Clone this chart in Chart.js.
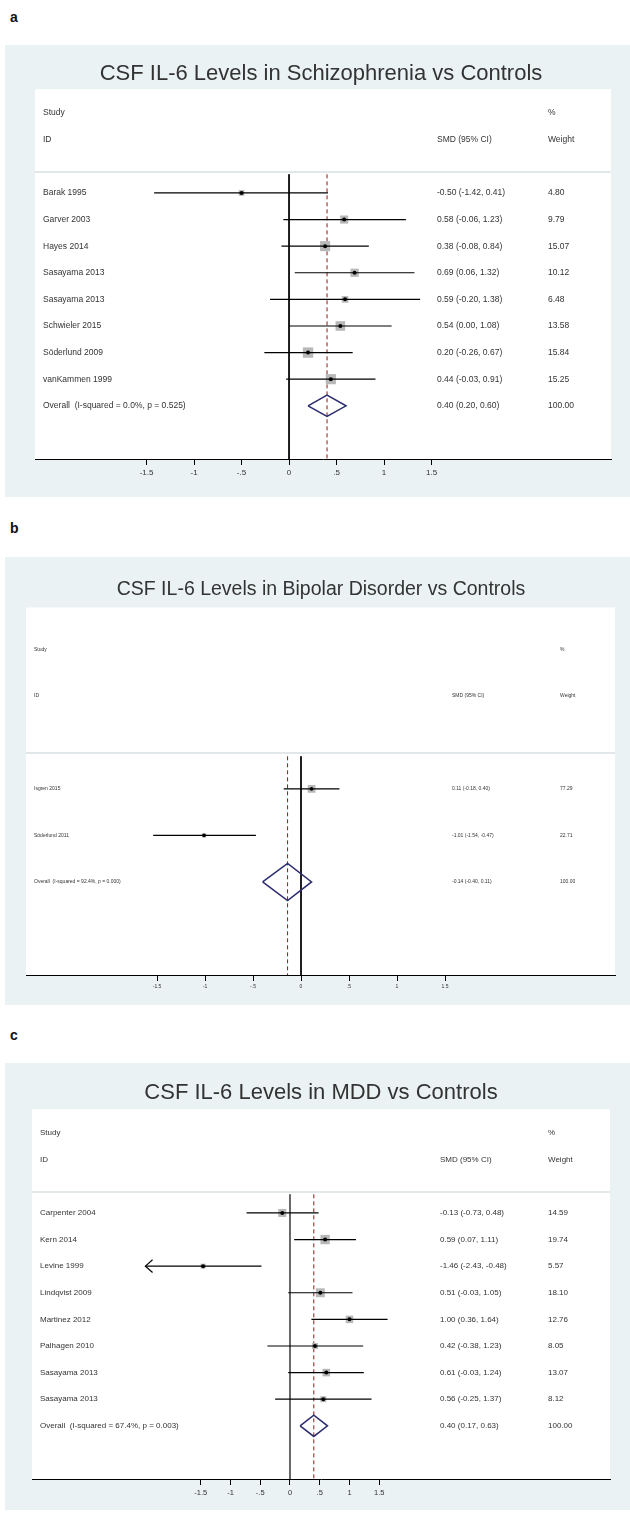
<!DOCTYPE html>
<html>
<head>
<meta charset="utf-8">
<script src="https://cdn.jsdelivr.net/npm/chart.js@4.4.1/dist/chart.umd.min.js"></script>
<style>
  body { margin:0; width:630px; height:1513px; background:#fff; position:relative; overflow:hidden;
         font-family:"Liberation Sans", Arial, sans-serif; }
  .lbl { position:absolute; left:10px; font-weight:bold; font-size:14px; line-height:16px; color:#111; }
  .ttl { position:absolute; left:0; width:642px; text-align:center; color:#333; line-height:26px; white-space:nowrap; }
  canvas { position:absolute; left:0; }
</style>
</head>
<body>
<div class="lbl" style="top:9px">a</div>
<canvas id="panelA" width="630" height="452" style="top:45px"></canvas>
<div class="ttl" style="top:60px;font-size:22px">CSF IL-6 Levels in Schizophrenia vs Controls</div>

<div class="lbl" style="top:520px">b</div>
<canvas id="panelB" width="630" height="448" style="top:557px"></canvas>
<div class="ttl" style="top:575px;font-size:19.5px">CSF IL-6 Levels in Bipolar Disorder vs Controls</div>

<div class="lbl" style="top:1027px">c</div>
<canvas id="panelC" width="630" height="447" style="top:1063px"></canvas>
<div class="ttl" style="top:1079px;font-size:22px">CSF IL-6 Levels in MDD vs Controls</div>

<script>
// x axis ticks shared by the three forest plots
const axisTicks = [-1.5, -1, -0.5, 0, 0.5, 1, 1.5];
const axisTickLabels = ["-1.5", "-1", "-.5", "0", ".5", "1", "1.5"];

// a - schizophrenia
const szStudies = ["Barak 1995", "Garver 2003", "Hayes 2014", "Sasayama 2013", "Sasayama 2013",
                   "Schwieler 2015", "Söderlund 2009", "vanKammen 1999"];
const szSmd    = [-0.50, 0.58, 0.38, 0.69, 0.59, 0.54, 0.20, 0.44];
const szLow    = [-1.42, -0.06, -0.08, 0.06, -0.20, 0.00, -0.26, -0.03];
const szHigh   = [0.41, 1.23, 0.84, 1.32, 1.38, 1.08, 0.67, 0.91];
const szWeight = [4.80, 9.79, 15.07, 10.12, 6.48, 13.58, 15.84, 15.25];
const szOverall = [0.40, 0.20, 0.60];
const szOverallLabel = "Overall  (I-squared = 0.0%, p = 0.525)";

// b - bipolar disorder
const bpStudies = ["Isgren 2015", "Söderlund 2011"];
const bpSmd    = [0.11, -1.01];
const bpLow    = [-0.18, -1.54];
const bpHigh   = [0.40, -0.47];
const bpWeight = [77.29, 22.71];
const bpOverall = [-0.14, -0.40, 0.11];
const bpOverallLabel = "Overall  (I-squared = 92.4%, p = 0.000)";

// c - MDD
const mddStudies = ["Carpenter 2004", "Kern 2014", "Levine 1999", "Lindqvist 2009", "Martinez 2012",
                    "Palhagen 2010", "Sasayama 2013", "Sasayama 2013"];
const mddSmd    = [-0.13, 0.59, -1.46, 0.51, 1.00, 0.42, 0.61, 0.56];
const mddLow    = [-0.73, 0.07, -2.43, -0.03, 0.36, -0.38, -0.03, -0.25];
const mddHigh   = [0.48, 1.11, -0.48, 1.05, 1.64, 1.23, 1.24, 1.37];
const mddWeight = [14.59, 19.74, 5.57, 18.10, 12.76, 8.05, 13.07, 8.12];
const mddOverall = [0.40, 0.17, 0.63];
const mddOverallLabel = "Overall  (I-squared = 67.4%, p = 0.003)";
const mddArrowRows = [2];

const FONT = '"Liberation Sans", Arial, sans-serif';

function fmtCi(e, l, h) {
    return e.toFixed(2) + " (" + l.toFixed(2) + ", " + h.toFixed(2) + ")";
}

function forestPlugin(p) {
    return {
        id: "forest",
        beforeDraw(chart) {
            const {ctx, chartArea: a, scales: {y}} = chart;
            ctx.save();
            // stata s2color background + white plot region
            ctx.fillStyle = "#eaf2f3";
            ctx.fillRect(5, 0, chart.width - 5, chart.height);
            const top = y.getPixelForValue(-2.9);
            ctx.fillStyle = "#fff";
            ctx.fillRect(a.left, top, a.right - a.left, a.bottom - top);
            ctx.fillStyle = "#e2e8ea";
            ctx.fillRect(a.left, a.top - 2, a.right - a.left, 2);
            ctx.restore();
        },
        afterDraw(chart) {
            const {ctx, scales: {y}} = chart;
            const t = p.textX;
            ctx.save();
            ctx.font = p.fontSize + "px " + FONT;
            ctx.fillStyle = "#333";
            ctx.textBaseline = "middle";
            const put = (s, x, row) => ctx.fillText(s, x, y.getPixelForValue(row));
            put("Study", t.name, -2);
            put("%", t.weight, -2);
            put("ID", t.name, -1);
            put("SMD (95% CI)", t.ci, -1);
            put("Weight", t.weight, -1);
            p.studies.forEach((s, i) => {
                put(s, t.name, i + 1);
                put(fmtCi(p.smd[i], p.low[i], p.high[i]), t.ci, i + 1);
                put(p.weight[i].toFixed(2), t.weight, i + 1);
            });
            const ov = p.studies.length + 1;
            put(p.overallLabel, t.name, ov);
            put(fmtCi(p.overall[0], p.overall[1], p.overall[2]), t.ci, ov);
            put((100).toFixed(2), t.weight, ov);
            ctx.restore();
        }
    };
}

function drawForest(id, p) {
    const n = p.studies.length;
    const ovRow = n + 1;
    const yMax = n + 3;
    const [oE, oL, oH] = p.overall;
    const line = (data, color, width, extra) => Object.assign({
        data, showLine: true, borderColor: color, borderWidth: width,
        pointRadius: 0, pointHoverRadius: 0, fill: false
    }, extra || {});

    const datasets = [];
    // study point estimates (drawn on top)
    datasets.push({
        data: p.smd.map((v, i) => ({x: v, y: i + 1})),
        pointStyle: "circle", pointRadius: p.dotR, backgroundColor: "#000", borderWidth: 0, showLine: false
    });
    // confidence intervals
    p.studies.forEach((s, i) => {
        datasets.push(line([{x: p.low[i], y: i + 1}, {x: p.high[i], y: i + 1}], "#000", p.ciWidth));
    });
    // arrows for intervals running past the axis range
    (p.arrowRows || []).forEach(i => {
        datasets.push(line([
            {x: p.low[i] + p.arrowW, y: i + 1 - 0.24},
            {x: p.low[i], y: i + 1},
            {x: p.low[i] + p.arrowW, y: i + 1 + 0.24}
        ], "#000", 1.2));
    });
    // pooled estimate diamond
    datasets.push(line([
        {x: oL, y: ovRow}, {x: oE, y: ovRow - 0.4}, {x: oH, y: ovRow},
        {x: oE, y: ovRow + 0.4}, {x: oL, y: ovRow}
    ], "#2c2c6e", 1.5));
    // weight boxes
    datasets.push({
        data: p.smd.map((v, i) => ({x: v, y: i + 1})),
        pointStyle: "rect",
        pointRadius: p.weight.map(w => p.boxScale * Math.sqrt(w) / Math.SQRT2),
        backgroundColor: "#b8b8b8", borderWidth: 0, showLine: false
    });
    // overall effect line and no-effect line
    datasets.push(line([{x: oE, y: 0.3}, {x: oE, y: yMax}], "#8b1a1a", 1, {borderDash: [4, 3]}));
    datasets.push(line([{x: 0, y: 0.3}, {x: 0, y: yMax}], p.zeroColor, 1));

    new Chart(document.getElementById(id), {
        type: "scatter",
        data: {datasets},
        options: {
            responsive: false,
            animation: false,
            events: [],
            devicePixelRatio: 1,
            layout: {padding: {left: p.area.left, right: 630 - p.area.right, top: p.area.top, bottom: 0}},
            plugins: {legend: {display: false}, tooltip: {enabled: false}},
            scales: {
                x: {
                    type: "linear", min: p.xMin, max: p.xMax,
                    afterBuildTicks: s => { s.ticks = axisTicks.map(v => ({value: v})); },
                    afterFit: s => { s.height = p.height - p.area.bottom; },
                    ticks: {
                        callback: (v, i) => axisTickLabels[i],
                        font: {family: FONT, size: p.tickFont}, color: "#333",
                        padding: 3, autoSkip: false, maxRotation: 0
                    },
                    grid: {drawOnChartArea: false, tickLength: 6, color: "#000", lineWidth: 1},
                    border: {color: "#000", width: 1}
                },
                y: {type: "linear", min: 0.25, max: yMax, reverse: true, display: false}
            }
        },
        plugins: [forestPlugin(p)]
    });
}

drawForest("panelA", {
    studies: szStudies, smd: szSmd, low: szLow, high: szHigh, weight: szWeight,
    overall: szOverall, overallLabel: szOverallLabel,
    height: 452, area: {left: 35, right: 611, top: 128, bottom: 414},
    xMin: -2.674, xMax: 3.389,
    textX: {name: 43, ci: 437, weight: 548},
    fontSize: 8.5, tickFont: 8, boxScale: 2.6, dotR: 2, ciWidth: 1.2, zeroColor: "#000"
});

drawForest("panelB", {
    studies: bpStudies, smd: bpSmd, low: bpLow, high: bpHigh, weight: bpWeight,
    overall: bpOverall, overallLabel: bpOverallLabel,
    height: 448, area: {left: 26, right: 615, top: 197, bottom: 418},
    xMin: -2.865, xMax: 3.271,
    textX: {name: 34, ci: 452, weight: 560},
    fontSize: 5, tickFont: 5, boxScale: 0.88, dotR: 1.8, ciWidth: 1.4, zeroColor: "#000"
});

drawForest("panelC", {
    studies: mddStudies, smd: mddSmd, low: mddLow, high: mddHigh, weight: mddWeight,
    overall: mddOverall, overallLabel: mddOverallLabel, arrowRows: mddArrowRows, arrowW: 0.12,
    height: 447, area: {left: 32, right: 610, top: 130, bottom: 416},
    xMin: -4.336, xMax: 5.378,
    textX: {name: 40, ci: 440, weight: 548},
    fontSize: 8, tickFont: 7.5, boxScale: 2.1, dotR: 2, ciWidth: 1.2, zeroColor: "#555"
});
</script>
</body>
</html>
